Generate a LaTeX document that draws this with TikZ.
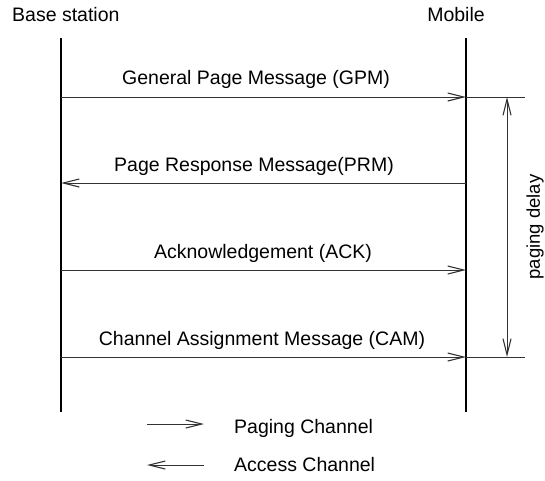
\documentclass[tikz,border=0pt]{standalone}
\usepackage{fontspec}
\setmainfont{Liberation Sans}
\usetikzlibrary{arrows.meta}
\begin{document}
\begin{tikzpicture}[x=1pt,y=-1pt,
  life/.style={line width=1.3pt},
  msg/.style={line width=0.9pt,black!80,-{Straight Barb[length=16pt,width=8pt,line width=1.1pt]}},
  lbl/.style={font=\fontsize{19.5}{22}\selectfont,inner sep=0pt},
  ext/.style={line width=0.9pt,black!80}]
\useasboundingbox (0,0) rectangle (545,480);
\node[lbl,anchor=west] (bs) at (12,15) {Base station};
\node[lbl] (mo) at (456,15) {Mobile};
\coordinate (lt) at (61,38); \coordinate (lb) at (61,412);
\coordinate (rt) at (466,38); \coordinate (rb) at (466,412);
\draw[life] (lt) -- (lb);
\draw[life] (rt) -- (rb);
\coordinate (a1) at (61,97); \coordinate (b1) at (466,97);
\coordinate (a2) at (61,183); \coordinate (b2) at (466,183);
\coordinate (a3) at (61,270); \coordinate (b3) at (466,270);
\coordinate (a4) at (61,357); \coordinate (b4) at (466,357);
\draw[msg] (a1) -- (b1);
\draw[msg] (b2) -- (a2);
\draw[msg] (a3) -- (b3);
\draw[msg] (a4) -- (b4);
\node[lbl] (l1) at (256,79) {General Page Message (GPM)};
\node[lbl] (l2) at (254,166) {Page Response Message(PRM)};
\node[lbl] (l3) at (263,253) {Acknowledgement (ACK)};
\node[lbl] (l4) at (262,340) {Channel Assignment Message (CAM)};
\coordinate (e1) at (525,97); \coordinate (e2) at (525,357);
\draw[ext] (b1) -- (e1);
\draw[ext] (b4) -- (e2);
\coordinate (d1) at (507,97); \coordinate (d2) at (507,357);
\draw[line width=0.9pt,black!80,{Straight Barb[length=16pt,width=8pt,line width=1.1pt]}-{Straight Barb[length=16pt,width=8pt,line width=1.1pt]}] (d1) -- (d2);
\node[lbl,rotate=90,font=\fontsize{18.5}{22}\selectfont] (pd) at (535,227) {paging delay};
\coordinate (p1) at (147,424); \coordinate (p2) at (204,424);
\coordinate (q1) at (147,465); \coordinate (q2) at (204,465);
\draw[msg] (p1) -- (p2);
\draw[msg] (q2) -- (q1);
\node[lbl,anchor=west] (pc) at (234,428) {Paging Channel};
\node[lbl,anchor=west] (ac) at (234,465) {Access Channel};
\end{tikzpicture}
\end{document}
